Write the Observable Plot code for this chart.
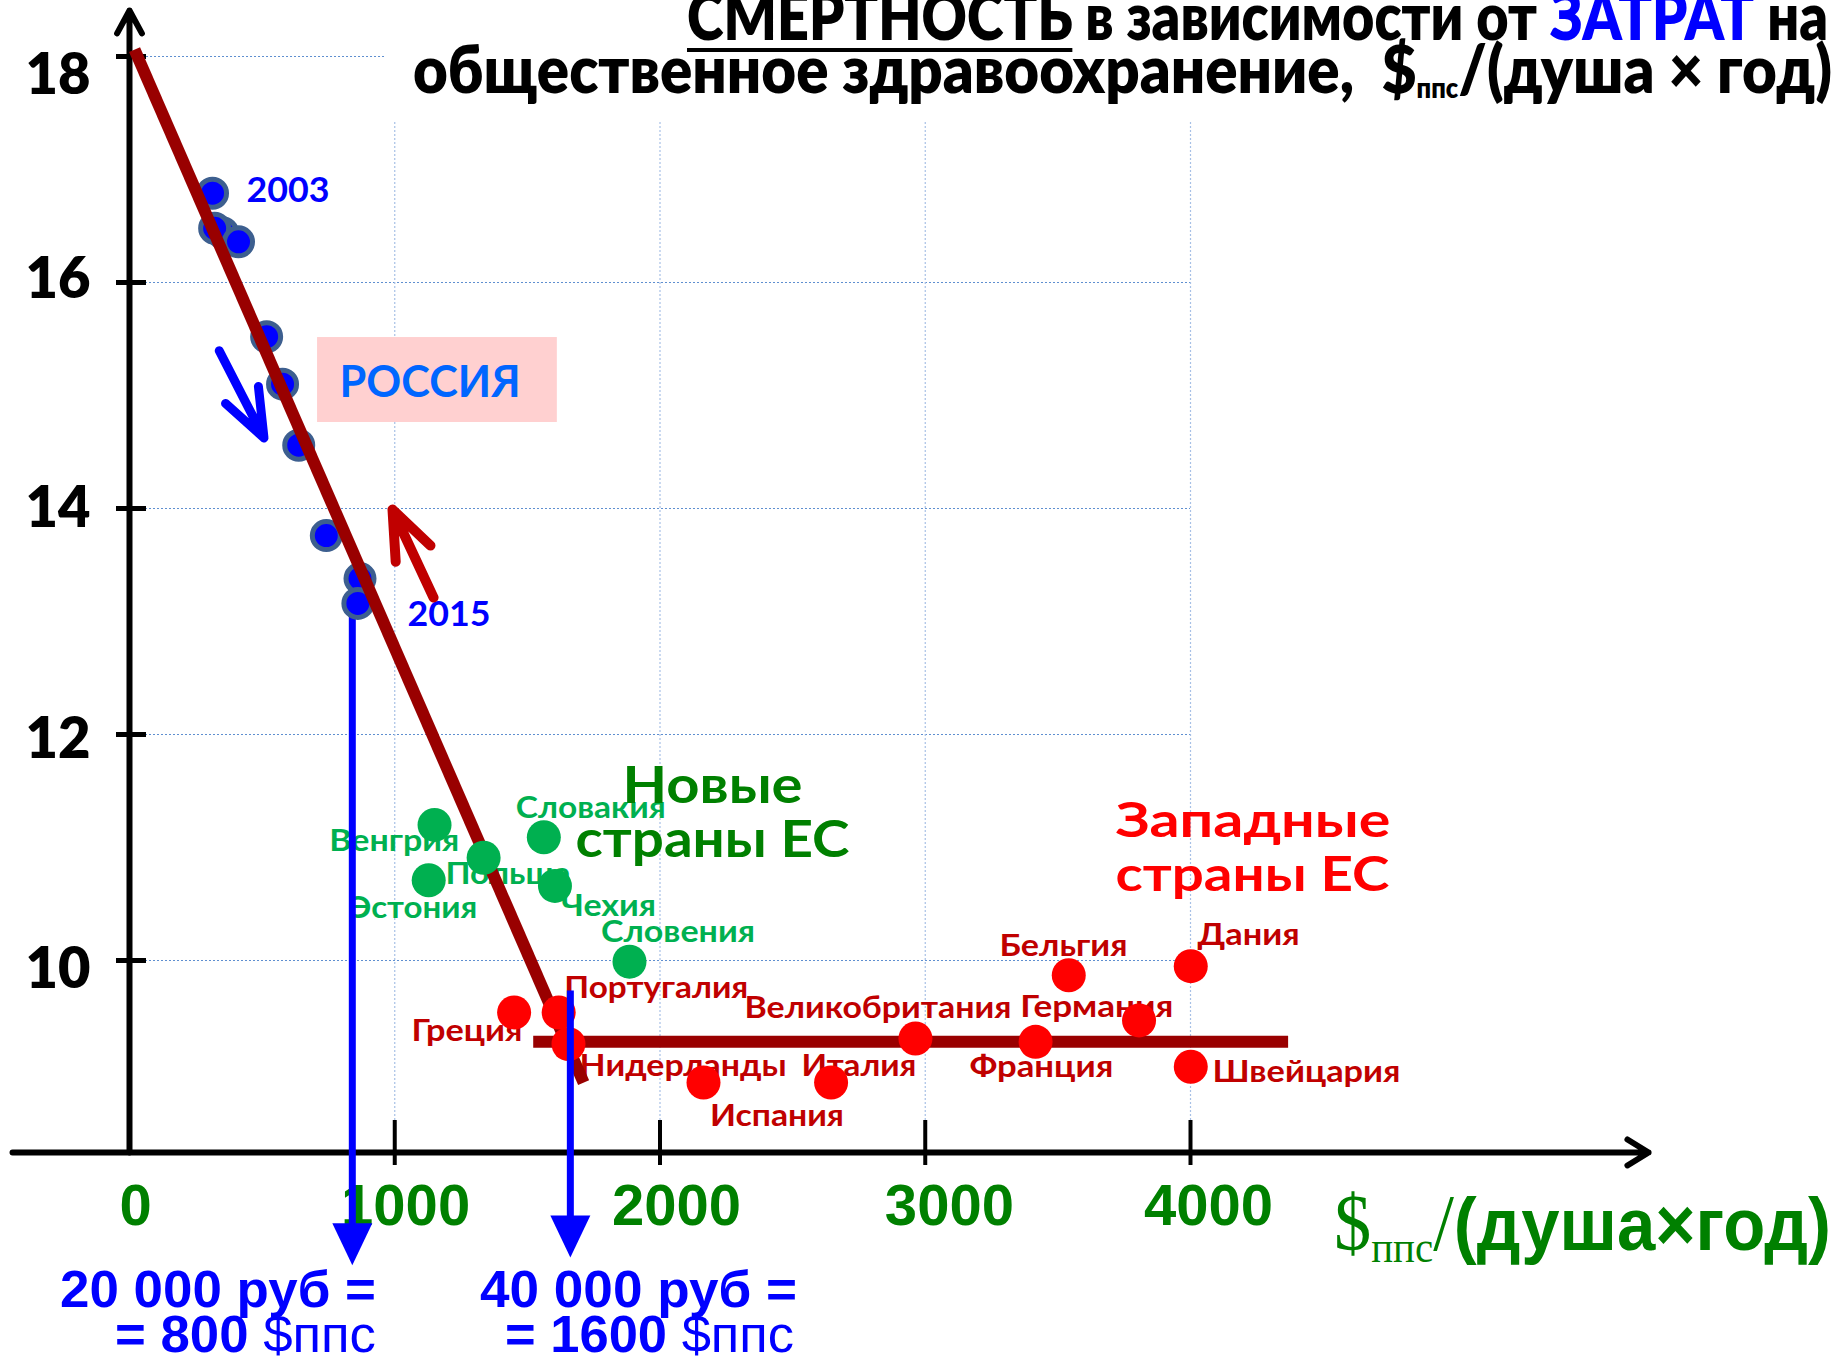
<!DOCTYPE html>
<html lang="ru"><head><meta charset="utf-8">
<script src="https://cdn.jsdelivr.net/npm/d3@7"></script>
<script src="https://cdn.jsdelivr.net/npm/@observablehq/plot@0.6"></script>
<style>
html,body{margin:0;padding:0;background:#fff;overflow:hidden}
#wrap{position:relative;width:1842px;height:1359px;overflow:hidden;background:#fff}
#wrap svg{position:absolute;left:0;top:0}
.ov{position:absolute;white-space:nowrap;line-height:0.8;top:0;left:0}
.cal{font-family:Lato,'Open Sans','Noto Sans',sans-serif;font-weight:800}
.ari{font-family:'Liberation Sans',Arial,sans-serif;font-weight:700}
.ser{font-family:'Liberation Serif','Times New Roman',serif;font-weight:400}
</style></head>
<body>
<div id="wrap">
  <div id="t1" class="ov cal" style="font-size:66px;color:#000"><span style="text-decoration:underline;text-decoration-thickness:4px;text-underline-offset:8px">СМЕРТНОСТЬ</span> в зависимости от <span style="color:#0000ff">ЗАТРАТ</span> на</div>
  <div id="t2" class="ov cal" style="font-size:66px;color:#000">общественное здравоохранение,&nbsp; $<span style="font-size:28px;vertical-align:-5px">ппс</span>/(душа × год)</div>
  <div id="xt" class="ov" style="color:#008000"><span class="ser" style="font-size:80px">$</span><span class="ser" style="font-size:44px;vertical-align:-12px">ппс</span><span class="ser" style="font-size:80px">/</span><span class="ari" style="font-size:74px">(душа×год)</span></div>
  <div id="n1a" class="ov ari" style="font-size:52px;color:#0000ff">20 000 руб =</div>
  <div id="n1b" class="ov ari" style="font-size:52px;color:#0000ff">= 800 <span style="font-weight:400">$ппс</span></div>
  <div id="n2a" class="ov ari" style="font-size:52px;color:#0000ff">40 000 руб =</div>
  <div id="n2b" class="ov ari" style="font-size:52px;color:#0000ff">= 1600 <span style="font-weight:400">$ппс</span></div>
</div>
<script>
// ---------------- DATA ----------------
// Russia 2003–2015: public health spending ($PPP per capita per year) vs mortality
const russiaSpend     = [351, 313, 321, 411, 517, 577, 638, 742, 869, 861];
const russiaMortality = [16.44, 16.79, 16.48, 16.36, 15.52, 15.10, 14.56, 13.76, 13.38, 13.16];

// New EU member states
const newEuCountries = ["Венгрия", "Польша", "Эстония", "Словакия", "Чехия", "Словения"];
const newEuSpend     = [1150, 1335, 1128, 1562, 1604, 1885];
const newEuMortality = [11.20, 10.91, 10.71, 11.09, 10.66, 9.99];

// Western EU states
const westEuCountries = ["Греция", "Португалия", "Нидерланды", "Испания", "Италия", "Великобритания", "Франция", "Бельгия", "Германия", "Дания", "Швейцария"];
const westEuSpend     = [1450, 1618, 1655, 2164, 2645, 2963, 3416, 3541, 3806, 4001, 4001];
const westEuMortality = [9.54, 9.54, 9.26, 8.92, 8.92, 9.31, 9.28, 9.87, 9.47, 9.95, 9.06];

// Trend lines as drawn
const russiaTrendSpend = [19, 1712];
const russiaTrendMortality = [18.06, 8.92];
const westTrendSpend = [1522, 4368];
const westTrendMortality = [9.28, 9.28];

// Conversion markers (20 000 руб / 40 000 руб)
const conversionSpend = [840, 1662];
const conversionFrom  = [13.16, 9.73];

// Ticks
const yTicks = [10, 12, 14, 16, 18];
const xTicks = [0, 1000, 2000, 3000, 4000];
const xTickLabels = ["0", "1000", "2000", "3000", "4000"];

// ---------------- LAYOUT (annotation anchors, data units) ----------------
const newEuLabelX = [998, 1427, 1070, 1739, 1806, 2068];
const newEuLabelY = [10.973, 10.681, 10.372, 11.257, 10.398, 10.162];
const westEuLabelX = [1272, 1986, 2087, 2441, 2750, 2822, 3438, 3521, 3647, 4219, 4437];
const westEuLabelY = [9.292, 9.664, 8.982, 8.531, 8.982, 9.487, 8.973, 10.038, 9.496, 10.133, 8.923];
const yTickLabelY = [9.761, 11.788, 13.832, 15.867, 17.664];
const xTickLabelX = [23, 1041, 2062, 3091, 4068];
const labelWidths = {"Венгрия":130,"Польша":125,"Эстония":128,"Словакия":150,"Чехия":95,"Словения":154,
  "Португалия":184,"Греция":111,"Нидерланды":207,"Италия":115,"Испания":134,"Великобритания":267,
  "Германия":153,"Франция":144,"Бельгия":128,"Дания":102,"Швейцария":188,
  "Новые":180,"страны ЕС":274,"Западные":275,"РОССИЯ":181,"2003":83,"2015":83};

// ---------------- BUILD ----------------
const CAL = "Lato, 'Open Sans', 'Noto Sans', sans-serif";
const ARI = "'Liberation Sans', Arial, sans-serif";
const AXIS_Y = 8.301;

const russia = russiaSpend.map((x, i) => ({x, y: russiaMortality[i]}));
const newEu = newEuCountries.map((name, i) => ({name, x: newEuSpend[i], y: newEuMortality[i], lx: newEuLabelX[i], ly: newEuLabelY[i]}));
const westEu = westEuCountries.map((name, i) => ({name, x: westEuSpend[i], y: westEuMortality[i], lx: westEuLabelX[i], ly: westEuLabelY[i]}));
const russiaTrend = russiaTrendSpend.map((x, i) => ({x, y: russiaTrendMortality[i]}));
const westTrend = westTrendSpend.map((x, i) => ({x, y: westTrendMortality[i]}));
const conv = conversionSpend.map((x, i) => ({x, y1: conversionFrom[i]}));

const downHead = {draw(ctx, size) { const r = Math.sqrt(size / Math.PI); ctx.moveTo(-r, -r); ctx.lineTo(r, -r); ctx.lineTo(0, r * 1.1); ctx.closePath(); }};

const fig = Plot.plot({
  width: 1842, height: 1359, margin: 0,
  style: {background: "transparent", overflow: "visible"},
  x: {axis: null, domain: [-486.33, 6458.06]},
  y: {axis: null, domain: [6.469, 18.4956]},
  marks: [
    // grid
    Plot.ruleY([10, 12, 14, 16], {x1: 0, x2: 4000, stroke: "#5f8fd0", strokeWidth: 1.2, strokeDasharray: "2,2"}),
    Plot.ruleY([18], {x1: 34, x2: 969, stroke: "#5f8fd0", strokeWidth: 1.2, strokeDasharray: "2,2"}),
    Plot.ruleX([1000, 2000, 3000, 4000], {y1: AXIS_Y, y2: 17.43, stroke: "#a7c0e6", strokeWidth: 1.2, strokeDasharray: "2,2"}),
    // Russia box
    Plot.rect([0], {x1: 709, x2: 1613, y1: 14.761, y2: 15.513, fill: "#ffd0d0"}),
    // axes
    Plot.arrow([0], {x1: -441, x2: 5727, y1: AXIS_Y, y2: AXIS_Y, stroke: "#000", strokeWidth: 6, headLength: 6.2, headAngle: 63}),
    Plot.arrow([0], {x1: 0, x2: 0, y1: AXIS_Y, y2: 18.407, stroke: "#000", strokeWidth: 6, headLength: 6.5, headAngle: 57}),
    Plot.ruleY(yTicks, {x1: -49, x2: 64, stroke: "#000", strokeWidth: 5}),
    Plot.ruleX(xTicks.slice(1), {y1: 8.186, y2: 8.584, stroke: "#000", strokeWidth: 4}),
    Plot.text(yTicks, {x: -147, y: (d, i) => yTickLabelY[i], text: d => String(d), textAnchor: "end", lineAnchor: "bottom", fontSize: 56, fontWeight: 800, fontFamily: CAL, fill: "#000"}),
    Plot.text(xTickLabels, {x: (d, i) => xTickLabelX[i], y: 7.655, text: d => d, textAnchor: "middle", lineAnchor: "bottom", fontSize: 58, fontWeight: "bold", fontFamily: ARI, fill: "#008000"}),
    // country labels
    Plot.text(newEu, {x: "lx", y: "ly", text: "name", fill: "#00b050", fontSize: 30, fontWeight: "bold", fontFamily: CAL, lineAnchor: "bottom", textAnchor: "middle"}),
    Plot.text(westEu, {x: "lx", y: "ly", text: "name", fill: "#c00000", fontSize: 30, fontWeight: "bold", fontFamily: CAL, lineAnchor: "bottom", textAnchor: "middle"}),
    // group labels
    Plot.text(["Новые\nстраны ЕС"], {x: 2198, y: 10.912, text: d => d, fill: "#008000", fontSize: 52, fontWeight: "bold", fontFamily: CAL, lineAnchor: "bottom", textAnchor: "middle", lineHeight: 1.04}),
    Plot.text(["Западные\nстраны ЕС"], {x: 3717, y: 10.613, text: d => d, fill: "#ff0000", fontSize: 48, fontWeight: "bold", fontFamily: CAL, lineAnchor: "bottom", textAnchor: "start", lineHeight: 1.125}),
    Plot.text(["РОССИЯ"], {x: 792, y: 14.991, text: d => d, fill: "#0066ff", fontSize: 43, fontWeight: "bold", fontFamily: CAL, lineAnchor: "bottom", textAnchor: "start"}),
    Plot.text(["2003"], {x: 441, y: 16.708, text: d => d, fill: "#0000ff", fontSize: 35, fontWeight: "bold", fontFamily: CAL, lineAnchor: "bottom", textAnchor: "start"}),
    Plot.text(["2015"], {x: 1048, y: 12.956, text: d => d, fill: "#0000ff", fontSize: 35, fontWeight: "bold", fontFamily: CAL, lineAnchor: "bottom", textAnchor: "start"}),
    // conversion arrow 800
    Plot.ruleX(conv.slice(0, 1), {x: "x", y1: "y1", y2: 7.655, stroke: "#0000ff", strokeWidth: 7}),
    Plot.dot(conv.slice(0, 1), {x: "x", y: 7.498, r: 20, symbol: downHead, fill: "#0000ff"}),
    // Russia points
    Plot.dot(russia, {x: "x", y: "y", r: 14, fill: "#0000ff", stroke: "#3d5f8f", strokeWidth: 5}),
    // trend lines
    Plot.line(russiaTrend, {x: "x", y: "y", stroke: "#990000", strokeWidth: 12, strokeLinecap: "butt"}),
    Plot.line(westTrend, {x: "x", y: "y", stroke: "#990000", strokeWidth: 12, strokeLinecap: "butt"}),
    // EU points
    Plot.dot(newEu, {x: "x", y: "y", r: 17, fill: "#00b050"}),
    Plot.dot(westEu, {x: "x", y: "y", r: 17, fill: "#ff0000"}),
    // conversion arrow 1600
    Plot.ruleX(conv.slice(1), {x: "x", y1: "y1", y2: 7.726, stroke: "#0000ff", strokeWidth: 7}),
    Plot.dot(conv.slice(1), {x: "x", y: 7.566, r: 20, symbol: downHead, fill: "#0000ff"}),
    // direction arrows
    Plot.arrow([0], {x1: 235, y1: 15.868, x2: 507, y2: 14.625, insetStart: 60, stroke: "#0000ff", strokeWidth: 9, headLength: 8.6, headAngle: 42}),
    Plot.arrow([0], {x1: 1242, y1: 12.731, x2: 991.5, y2: 13.991, insetStart: 60, stroke: "#c00000", strokeWidth: 10, headLength: 7.9, headAngle: 43})
  ]
});
const wrap = document.getElementById("wrap");
wrap.insertBefore(fig, wrap.firstChild);

for (const el of fig.querySelectorAll("text, tspan")) {
  if (el.tagName === "text" && el.querySelector("tspan")) continue;
  const w = labelWidths[el.textContent];
  if (w) { el.setAttribute("textLength", w); el.setAttribute("lengthAdjust", "spacingAndGlyphs"); }
}

function place(id, o) {
  const el = document.getElementById(id);
  el.style.transform = "none"; el.style.left = "0px"; el.style.top = "0px";
  let m = el.querySelector(".bl");
  if (!m) { m = document.createElement("span"); m.className = "bl"; m.style.cssText = "display:inline-block;width:0;height:0;vertical-align:baseline"; el.appendChild(m); }
  const r0 = wrap.getBoundingClientRect();
  const base = m.getBoundingClientRect().top - r0.top;
  const w = el.getBoundingClientRect().width;
  const s = o.width / w;
  el.style.top = (o.baseline - base) + "px";
  el.style.left = (o.left != null ? o.left : o.right - o.width) + "px";
  el.style.transformOrigin = "0 0";
  el.style.transform = `scaleX(${s})`;
}
function layout() {
  place("t1", {right: 1828, baseline: 40, width: 1141});
  place("t2", {right: 1832, baseline: 93, width: 1419});
  place("xt", {left: 1334, baseline: 1250, width: 497});
  place("n1a", {right: 376, baseline: 1306.7, width: 316});
  place("n1b", {right: 376, baseline: 1351.7, width: 261});
  place("n2a", {right: 797, baseline: 1306.7, width: 317});
  place("n2b", {right: 794, baseline: 1351.7, width: 289});
}
layout();
if (document.fonts && document.fonts.ready) document.fonts.ready.then(layout);
</script>
</body></html>
